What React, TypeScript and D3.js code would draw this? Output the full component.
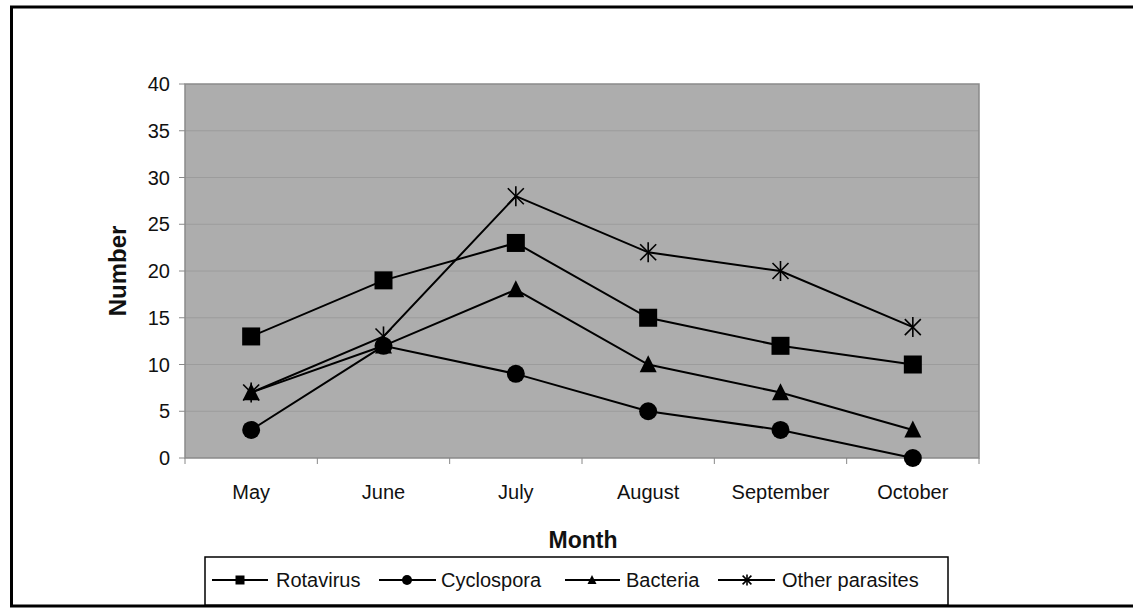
import React from "react";
import * as d3 from "d3";

const months = ["May", "June", "July", "August", "September", "October"];
const rotavirus = [13, 19, 23, 15, 12, 10];
const cyclospora = [3, 12, 9, 5, 3, 0];
const bacteria = [7, 12, 18, 10, 7, 3];
const otherParasites = [7, 13, 28, 22, 20, 14];
const yTicks = [0, 5, 10, 15, 20, 25, 30, 35, 40];

const seriesNames = ["Rotavirus", "Cyclospora", "Bacteria", "Other parasites"];
const seriesValues = [rotavirus, cyclospora, bacteria, otherParasites];
const markerTypes = ["square", "circle", "triangle", "asterisk"];

const W = 1133;
const H = 609;
const plot = { left: 185, right: 979, top: 84, bottom: 458 };
const FONT = "'Liberation Sans', Arial, sans-serif";

function Marker({ type, x, y, s }: { type: string; x: number; y: number; s: number }) {
  if (type === "square") return <rect x={x - s / 2} y={y - s / 2} width={s} height={s} fill="#000" />;
  if (type === "circle") return <circle cx={x} cy={y} r={s / 2} fill="#000" />;
  if (type === "triangle") {
    const h = s;
    return <path d={`M${x},${y - h * 0.55}L${x + s / 2},${y + h * 0.45}L${x - s / 2},${y + h * 0.45}Z`} fill="#000" />;
  }
  const r = s / 2;
  const a = r * 0.8;
  return (
    <g stroke="#000" strokeWidth={1.6}>
      <line x1={x} y1={y - r} x2={x} y2={y + r} />
      <line x1={x - a} y1={y - a} x2={x + a} y2={y + a} />
      <line x1={x - a} y1={y + a} x2={x + a} y2={y - a} />
    </g>
  );
}

export default function App() {
  const x = d3.scaleBand<string>().domain(months).range([plot.left, plot.right]);
  const y = d3.scaleLinear().domain([0, 40]).range([plot.bottom, plot.top]);
  const line = d3
    .line<number>()
    .x((_, i) => (x(months[i]) as number) + x.bandwidth() / 2)
    .y((d) => y(d));

  const markerSizes = [18, 18, 17, 20];
  const legendItems = [
    { l: 212, r: 268, m: 240, t: 276 },
    { l: 379, r: 436, m: 407, t: 441 },
    { l: 565, r: 620, m: 592, t: 626 },
    { l: 718, r: 775, m: 747, t: 782 },
  ];
  const legendMarkerSizes = [9, 10, 9, 11];

  return (
    <svg width={W} height={H} style={{ position: "absolute", left: 0, top: 0 }} fontFamily={FONT}>
      <rect x={0} y={0} width={W} height={H} fill="#fff" />
      <rect x={11.5} y={7} width={W + 20} height={599} fill="none" stroke="#000" strokeWidth={3} />
      <rect x={plot.left} y={plot.top} width={plot.right - plot.left} height={plot.bottom - plot.top} fill="#adadad" />
      {yTicks.map((t) => (
        <g key={t}>
          {t > 0 && t < 40 && (
            <line x1={plot.left} x2={plot.right} y1={y(t)} y2={y(t)} stroke="#9c9c9c" strokeWidth={1} />
          )}
          <line x1={plot.left - 6} x2={plot.left} y1={y(t)} y2={y(t)} stroke="#888" strokeWidth={1} />
          <text x={170} y={y(t)} dy="0.35em" textAnchor="end" fontSize={20} fill="#111">
            {t}
          </text>
        </g>
      ))}
      <rect x={plot.left} y={plot.top} width={plot.right - plot.left} height={plot.bottom - plot.top} fill="none" stroke="#8a8a8a" strokeWidth={1.5} />
      {months.map((m, i) => (
        <g key={m}>
          <line x1={x(m) as number} x2={x(m) as number} y1={plot.bottom} y2={plot.bottom + 6} stroke="#888" />
          {i === months.length - 1 && (
            <line x1={plot.right} x2={plot.right} y1={plot.bottom} y2={plot.bottom + 6} stroke="#888" />
          )}
          <text x={(x(m) as number) + x.bandwidth() / 2} y={499} textAnchor="middle" fontSize={20} fill="#111">
            {m}
          </text>
        </g>
      ))}
      {seriesValues.map((vals, si) => (
        <g key={si}>
          <path d={line(vals) || ""} fill="none" stroke="#000" strokeWidth={2} />
          {vals.map((v, i) => (
            <Marker key={i} type={markerTypes[si]} x={(x(months[i]) as number) + x.bandwidth() / 2} y={y(v)} s={markerSizes[si]} />
          ))}
        </g>
      ))}
      <text x={583} y={548} textAnchor="middle" fontSize={23} fontWeight="bold" fill="#111">
        Month
      </text>
      <text transform={`translate(126,271) rotate(-90)`} textAnchor="middle" fontSize={24} fontWeight="bold" fill="#111">
        Number
      </text>
      <rect x={205} y={557} width={743} height={48} fill="#fff" stroke="#000" strokeWidth={1.5} />
      {legendItems.map((it, i) => (
        <g key={i}>
          <line x1={it.l} x2={it.r} y1={580} y2={580} stroke="#000" strokeWidth={2} />
          <Marker type={markerTypes[i]} x={it.m} y={580} s={legendMarkerSizes[i]} />
          <text x={it.t} y={580} dy="0.35em" fontSize={20} fill="#111">
            {seriesNames[i]}
          </text>
        </g>
      ))}
    </svg>
  );
}
